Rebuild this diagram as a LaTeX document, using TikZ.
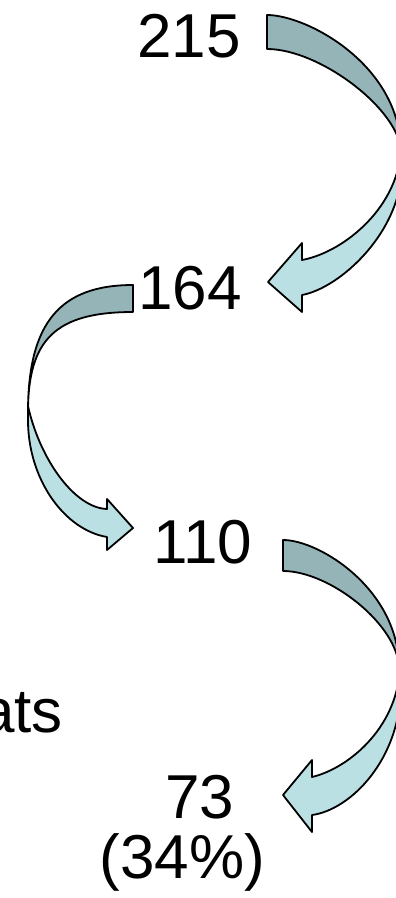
\documentclass[tikz,border=0pt]{standalone}
\usepackage{fontspec}
\setmainfont{Liberation Sans}
\definecolor{darkteal}{RGB}{148,180,184}
\definecolor{lightteal}{RGB}{186,224,228}
\begin{document}
\begin{tikzpicture}[x=1pt,y=-1pt,
  darkband/.style={fill=darkteal,draw=black,line width=1.8pt,line join=round},
  lightband/.style={fill=lightteal,draw=black,line width=1.8pt,line join=round},
  num/.style={font=\fontsize{62}{62}\selectfont,inner sep=0pt,anchor=base}]
\useasboundingbox (0,0) rectangle (396,898);
\fill[white] (0,0) rectangle (396,898);
\clip (0,0) rectangle (396,898);
% arrow 1 (215 -> 164)
\draw[darkband] (267,15) .. controls (307,15) and (401,65) .. (401,152)
  .. controls (400,110) and (320,49) .. (267,49) -- cycle;
\draw[lightband] (401,145) .. controls (401,205) and (345,252) .. (302,260)
  -- (302,243) -- (268,282) -- (302,312) -- (302,295)
  .. controls (340,288) and (402,232) .. (402,165) -- cycle;
% arrow 2 (164 -> 110)
\draw[darkband] (133,285) .. controls (60,285) and (28,323) .. (28,412)
  .. controls (28,340) and (55,312) .. (133,312) -- cycle;
\draw[lightband] (28,406) .. controls (40,460) and (75,508) .. (107,509)
  -- (107,499) -- (133,528) -- (107,550) -- (107,537)
  .. controls (65,530) and (28,480) .. (28,420) -- cycle;
% arrow 3 (110 -> 73)
\draw[darkband] (283,540) .. controls (320,540) and (399,590) .. (399,668)
  .. controls (398,625) and (330,571) .. (283,571) -- cycle;
\draw[lightband] (400,663) .. controls (400,725) and (350,768) .. (312,777)
  -- (312,760) -- (283,795) -- (312,832) -- (312,815)
  .. controls (350,810) and (401,760) .. (401,685) -- cycle;
% texts
\node[num] (n215) at (189,57) {215};
\node[num] (n164) at (190,309) {164};
\node[num] (n110) at (203,563) {110};
\node[num,anchor=base east] (nats) at (63,732) {ats};
\node[num] (n73) at (200,818) {73};
\node[num] (n34) at (182.5,878) {(34\%)};
\end{tikzpicture}
\end{document}
